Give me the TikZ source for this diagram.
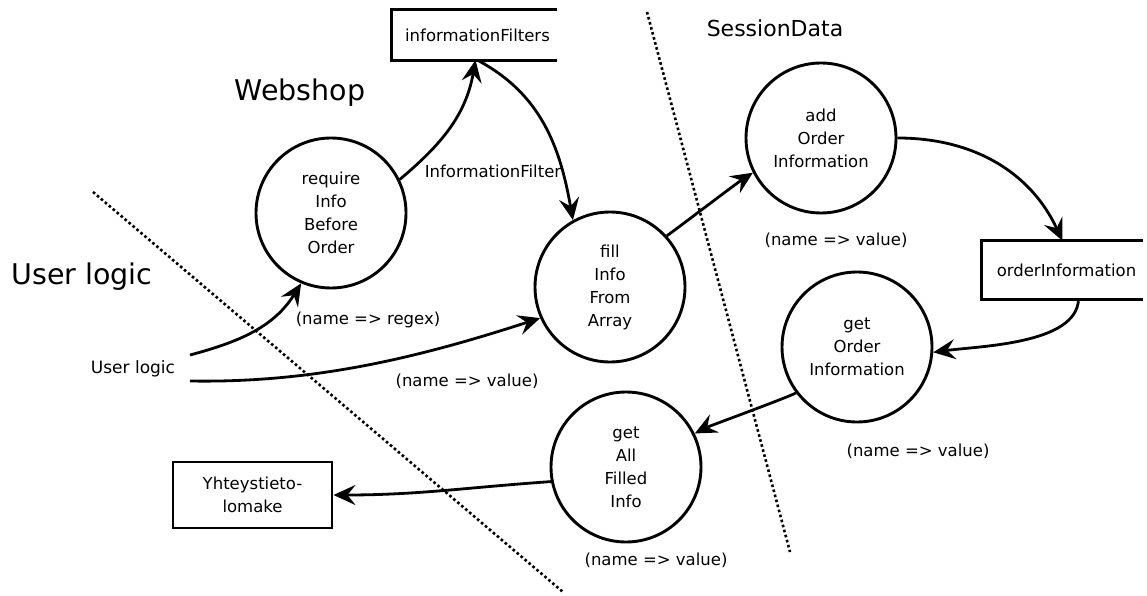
\documentclass[tikz,border=0pt]{standalone}
\usepackage{fontspec}
\setmainfont{DejaVu Sans}
\usetikzlibrary{arrows.meta}
\begin{document}
\begin{tikzpicture}[x=1pt,y=1pt,
  proc/.style={circle,draw,line width=2.9pt,minimum size=150pt,inner sep=0pt,align=center,
    font=\fontsize{16.5}{23}\selectfont},
  store/.style={minimum height=50pt,inner sep=0pt,font=\fontsize{16.5}{20}\selectfont},
  entity/.style={draw,line width=2.9pt,minimum width=159pt,minimum height=66pt,inner sep=0pt,
    align=center,font=\fontsize{16.5}{23}\selectfont},
  lbl/.style={font=\fontsize{16.5}{20}\selectfont,inner sep=0pt},
  title/.style={font=\fontsize{28.5}{32}\selectfont,inner sep=0pt},
  flow/.style={line width=2.8pt,-{Stealth[length=22pt,width=20pt,inset=8pt]}},
  border/.style={line width=2.6pt,dash pattern=on 2.6pt off 2.6pt},
  storeline/.style={line width=2.9pt,line join=miter}]
\useasboundingbox (0,0) rectangle (1147,595);

% boundaries between the three parts
\coordinate (b1a) at (93,403);
\coordinate (b1b) at (563,3);
\coordinate (b2a) at (647,583);
\coordinate (b2b) at (790,43);
\draw[border] (b1a) -- (b1b);
\draw[border] (b2a) -- (b2b);

% area titles
\node[title] (tWeb) at (300,502) {Webshop};
\node[title] (tUser) at (82,318) {User logic};
\node[title,font=\fontsize{22}{26}\selectfont] (tSess) at (775,567) {SessionData};

% processes
\node[proc] (req) at (331,382) {require\\Info\\Before\\Order};
\node[proc] (fill) at (610,308) {fill\\Info\\From\\Array};
\node[proc] (add) at (821,457) {add\\Order\\Information};
\node[proc] (getO) at (857,248) {get\\Order\\Information};
\node[proc] (getA) at (626,128) {get\\All\\Filled\\Info};

% data stores (open on the right)
\node[store,minimum width=165pt] (infoF) at (474.5,560) {\hspace*{6pt}informationFilters};
\draw[storeline] (infoF.north east) -- (infoF.north west) -- (infoF.south west) -- (infoF.south east);
\node[store,minimum width=161pt,minimum height=58pt] (ordI) at (1062.5,325) {\hspace*{8pt}orderInformation};
\draw[storeline] (ordI.north east) -- (ordI.north west) -- (ordI.south west) -- (ordI.south east);

% external entities
\node[entity] (yht) at (252.5,100) {Yhteystieto-\\lomake};
\node[lbl,font=\fontsize{17}{20}\selectfont] (user) at (133,226) {User logic};
\coordinate (u1) at (190,240);
\coordinate (u2) at (190,214);

% data flows
\draw[flow] (u1) to[out=15,in=238] (req.247);
\draw[flow] (u2) to[out=-1,in=198,looseness=0.9] (fill.204);
\draw[flow] (req.26) to[out=40,in=-100] ([xshift=1pt]infoF.south);
\draw[flow] ([xshift=3pt]infoF.south) to[out=-28,in=100] (fill.119);
\draw[flow] (fill.42) to[out=36,in=213,looseness=0.5] (add.207);
\draw[flow] (add.0) to[out=0,in=115] (ordI.south |- ordI.north);
\draw[flow] ([xshift=16pt]ordI.south) to[out=-92,in=8,looseness=0.75] (getO.-4);
\draw[flow] (getO.217) to[out=205,in=27,looseness=0.4] (getA.26);
\draw[flow] (getA.191) to[out=184,in=0] (yht.east);

% flow labels
\node[lbl] (lIF) at (493,424) {InformationFilter};
\node[lbl] (lReg) at (368,275) {(name => regex)};
\node[lbl] (lV1) at (467,214) {(name => value)};
\node[lbl] (lV2) at (836,355) {(name => value)};
\node[lbl] (lV3) at (918,144) {(name => value)};
\node[lbl] (lV4) at (656,35) {(name => value)};
\end{tikzpicture}
\end{document}
